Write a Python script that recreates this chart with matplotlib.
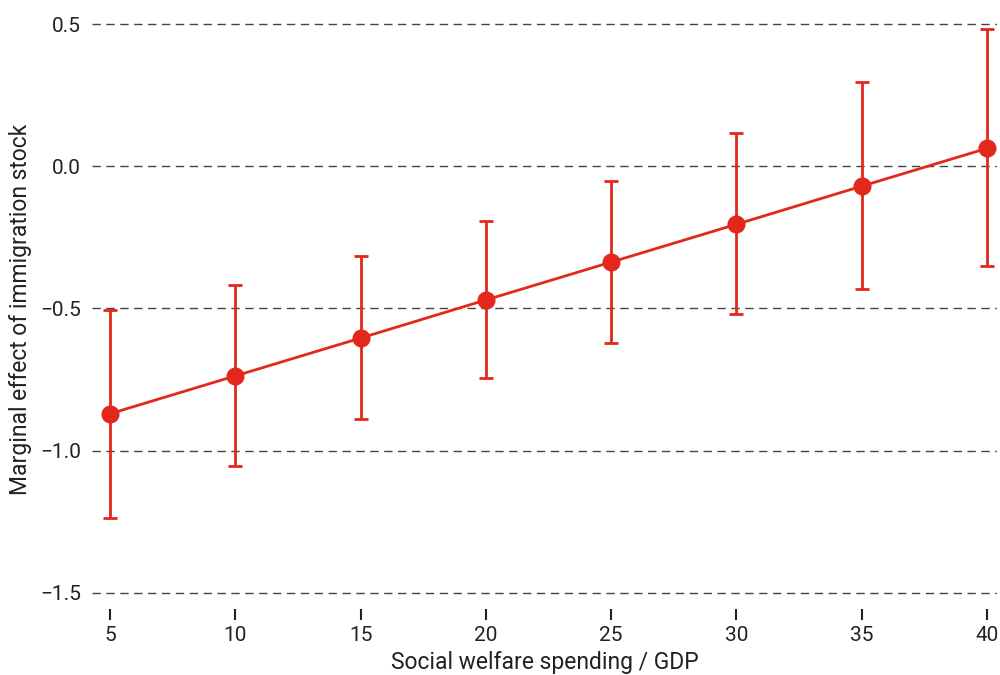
import numpy as np
import matplotlib
matplotlib.use("Agg")
import matplotlib.pyplot as plt

plt.rcParams['font.family'] = ['Roboto', 'DejaVu Sans']

# values
spending = [5, 10, 15, 20, 25, 30, 35, 40]
effect = [-0.870, -0.737, -0.604, -0.470, -0.337, -0.204, -0.070, 0.063]
upper = [-0.505, -0.418, -0.316, -0.193, -0.053, 0.116, 0.295, 0.481]
lower = [-1.235, -1.053, -0.888, -0.744, -0.621, -0.519, -0.432, -0.351]
yticks = [0.5, 0.0, -0.5, -1.0, -1.5]
ytick_labels = ['0.5', '0.0', '\u22120.5', '\u22121.0', '\u22121.5']

red = '#e2281b'
txt = '#222222'

effect = np.array(effect)
err = [effect - np.array(lower), np.array(upper) - effect]

fig = plt.figure(figsize=(10, 6.75), dpi=100)
ax = fig.add_axes([0.092, 0.098, 0.905, 0.887])

for y in yticks:
    ax.axhline(y, color='#444444', lw=1.0, ls=(0, (6, 4)), zorder=1)

ax.errorbar(spending, effect, yerr=err, color=red, lw=2.0, elinewidth=2.0,
            capsize=5, capthick=2.0, marker='o', markersize=12, zorder=3)

ax.set_xlim(4.28, 40.4)
ax.set_ylim(-1.556, 0.549)
ax.set_xticks(spending)
ax.set_yticks(yticks)
ax.set_yticklabels(ytick_labels)
for s in ax.spines.values():
    s.set_visible(False)
ax.tick_params(axis='y', length=0, pad=8, labelsize=15, labelcolor=txt)
ax.tick_params(axis='x', length=8, width=1.5, color=txt, pad=4, labelsize=15, labelcolor=txt)

ax.set_xlabel('Social welfare spending / GDP', fontsize=16.5, color=txt, labelpad=5)
ax.set_ylabel('Marginal effect of immigration stock', fontsize=16.5, color=txt, labelpad=6)

fig.savefig('out.png', dpi=100)
